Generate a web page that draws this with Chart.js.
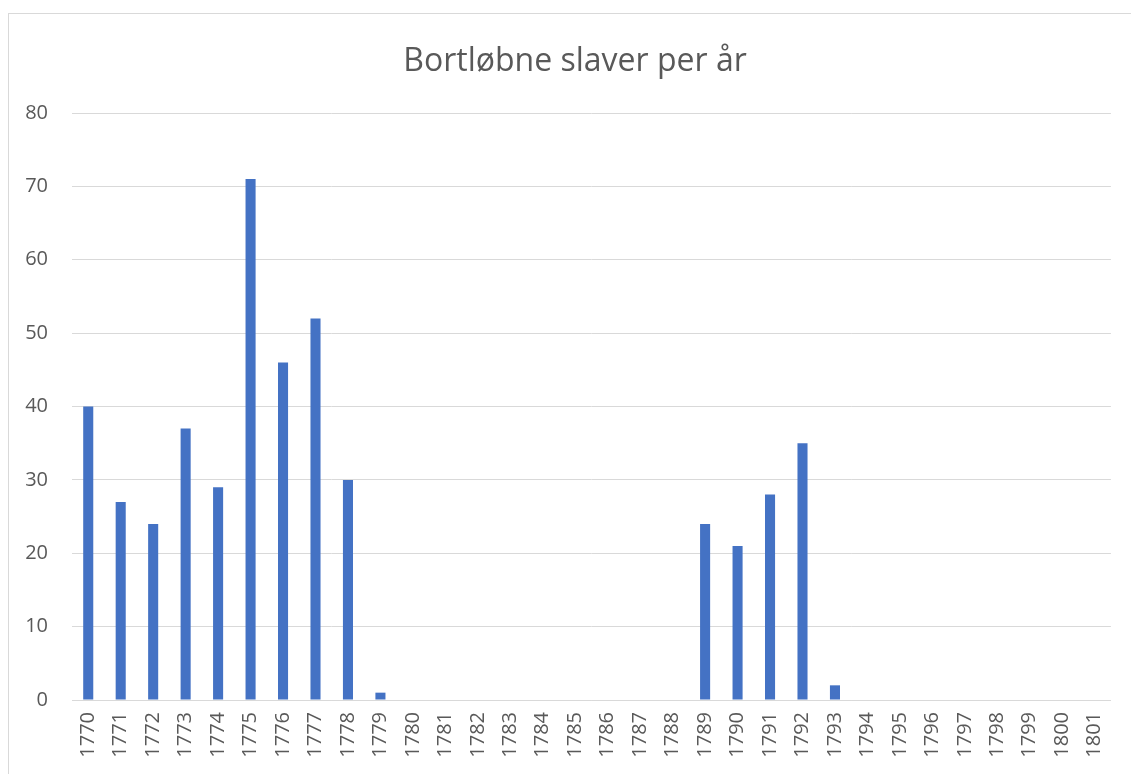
<!DOCTYPE html>
<html>
<head>
<meta charset="utf-8">
<script src="https://cdn.jsdelivr.net/npm/chart.js@4/dist/chart.umd.min.js"></script>
<style>
  html, body { margin: 0; padding: 0; background: #fff; overflow: hidden; width: 1131px; height: 774px; }
  #frame { position: absolute; left: 8px; top: 13px; width: 1200px; height: 800px; border: 1px solid #d9d9d9; box-sizing: border-box; }
  #c { position: absolute; left: 0; top: 0; }
  #title { position: absolute; left: 375px; width: 400px; top: 40px; height: 38px; line-height: 38px; text-align: center;
           font-family: 'Open Sans', 'Noto Sans', sans-serif; font-size: 32px; color: #595959; white-space: nowrap; }
</style>
</head>
<body>
<div id="frame"></div>
<canvas id="c" width="1131" height="774"></canvas>
<div id="title"></div>
<script>
const title = "Bortløbne slaver per år";
const years = ["1770","1771","1772","1773","1774","1775","1776","1777","1778","1779","1780","1781","1782","1783","1784","1785","1786","1787","1788","1789","1790","1791","1792","1793","1794","1795","1796","1797","1798","1799","1800","1801"];
const runaways = [40,27,24,37,29,71,46,52,30,1,0,0,0,0,0,0,0,0,0,24,21,28,35,2,0,0,0,0,0,0,0,0];
const yMin = 0, yMax = 80, yStep = 10;

document.getElementById('title').textContent = title;

const fontFamily = "'Open Sans', 'Noto Sans', sans-serif";
const textColor = "#595959";
const gridColor = "#d9d9d9";

new Chart(document.getElementById('c'), {
  type: 'bar',
  data: {
    labels: years,
    datasets: [{
      data: runaways,
      backgroundColor: '#4472C4',
      borderWidth: 0,
      categoryPercentage: 1,
      barPercentage: 0.31
    }]
  },
  options: {
    responsive: false,
    animation: false,
    layout: { padding: { left: 0, right: 19, top: 113, bottom: 0 } },
    plugins: {
      legend: { display: false },
      tooltip: { enabled: false },
      title: { display: false }
    },
    scales: {
      x: {
        grid: { display: false, drawTicks: false },
        border: { display: true, color: gridColor, width: 1 },
        ticks: {
          color: textColor,
          font: { family: fontFamily, size: 20 },
          minRotation: 90, maxRotation: 90,
          autoSkip: false,
          padding: 12
        },
        afterFit: (s) => { s.height = 74; }
      },
      y: {
        min: yMin, max: yMax,
        grid: { color: gridColor, lineWidth: 1, drawTicks: false },
        border: { display: false },
        ticks: {
          stepSize: yStep,
          color: textColor,
          font: { family: fontFamily, size: 20 },
          padding: 24
        },
        afterFit: (s) => { s.width = 72; }
      }
    }
  }
});
</script>
</body>
</html>
